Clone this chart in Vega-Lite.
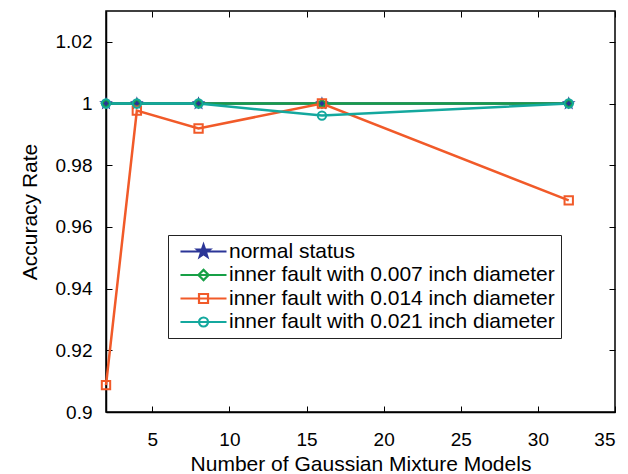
{
  "$schema": "https://vega.github.io/schema/vega-lite/v6.json",
  "width": 509,
  "height": 401,
  "autosize": {"type": "none"},
  "padding": {"left": 106, "top": 11, "right": 13, "bottom": 62},
  "background": "white",
  "config": {
    "font": "Liberation Sans",
    "view": {"stroke": "black", "strokeWidth": 1.5},
    "axis": {"grid": false, "domainColor": "black", "tickColor": "black", "labelColor": "black", "titleColor": "black", "labelFont": "Liberation Sans", "titleFont": "Liberation Sans", "labelFontSize": 19, "titleFontSize": 21, "titleFontWeight": "normal", "domainWidth": 1.5, "tickWidth": 1, "tickSize": -6}
  },
  "data": {"values": [
    {"m": 2, "acc": 1, "s": "normal status"},
    {"m": 4, "acc": 1, "s": "normal status"},
    {"m": 8, "acc": 1, "s": "normal status"},
    {"m": 16, "acc": 1, "s": "normal status"},
    {"m": 32, "acc": 1, "s": "normal status"},
    {"m": 2, "acc": 1, "s": "inner fault with 0.007 inch diameter"},
    {"m": 4, "acc": 1, "s": "inner fault with 0.007 inch diameter"},
    {"m": 8, "acc": 1, "s": "inner fault with 0.007 inch diameter"},
    {"m": 16, "acc": 1, "s": "inner fault with 0.007 inch diameter"},
    {"m": 32, "acc": 1, "s": "inner fault with 0.007 inch diameter"},
    {"m": 2, "acc": 0.9087, "s": "inner fault with 0.014 inch diameter"},
    {"m": 4, "acc": 0.9977, "s": "inner fault with 0.014 inch diameter"},
    {"m": 8, "acc": 0.9919, "s": "inner fault with 0.014 inch diameter"},
    {"m": 16, "acc": 1, "s": "inner fault with 0.014 inch diameter"},
    {"m": 32, "acc": 0.9686, "s": "inner fault with 0.014 inch diameter"},
    {"m": 2, "acc": 1, "s": "inner fault with 0.021 inch diameter"},
    {"m": 4, "acc": 1, "s": "inner fault with 0.021 inch diameter"},
    {"m": 8, "acc": 1, "s": "inner fault with 0.021 inch diameter"},
    {"m": 16, "acc": 0.9961, "s": "inner fault with 0.021 inch diameter"},
    {"m": 32, "acc": 1, "s": "inner fault with 0.021 inch diameter"}
  ]},
  "resolve": {"axis": {"x": "independent", "y": "independent"}, "scale": {"color": "independent", "shape": "independent", "fill": "independent"}},
  "layer": [
    {
      "mark": {"type": "line", "strokeWidth": 2.5},
      "encoding": {
        "x": {"field": "m", "type": "quantitative", "scale": {"domain": [2, 35], "nice": false, "zero": false}, "axis": {"values": [5, 10, 15, 20, 25, 30, 35], "title": "Number of Gaussian Mixture Models", "labelPadding": 24, "titlePadding": 4}},
        "y": {"field": "acc", "type": "quantitative", "scale": {"domain": [0.9, 1.03], "nice": false, "zero": false}, "axis": {"values": [0.9, 0.92, 0.94, 0.96, 0.98, 1, 1.02], "format": "~g", "title": "Accuracy Rate", "labelPadding": 20, "titlePadding": 15}},
        "color": {"field": "s", "type": "nominal", "legend": null, "scale": {"domain": ["normal status", "inner fault with 0.007 inch diameter", "inner fault with 0.014 inch diameter", "inner fault with 0.021 inch diameter"], "range": ["#2B3597", "#17A046", "#F15A29", "#14A89E"]}},
        "order": {"field": "m", "type": "quantitative"}
      }
    },
    {
      "mark": {"type": "point", "strokeWidth": 2, "size": 70, "opacity": 1},
      "encoding": {
        "x": {"field": "m", "type": "quantitative", "axis": {"orient": "top", "values": [5, 10, 15, 20, 25, 30, 35], "labels": false, "title": null, "domain": false}},
        "y": {"field": "acc", "type": "quantitative", "axis": {"orient": "right", "values": [0.9, 0.92, 0.94, 0.96, 0.98, 1, 1.02], "labels": false, "title": null, "domain": false}},
        "color": {"field": "s", "type": "nominal", "legend": null, "scale": {"domain": ["normal status", "inner fault with 0.007 inch diameter", "inner fault with 0.014 inch diameter", "inner fault with 0.021 inch diameter"], "range": ["#2B3597", "#17A046", "#F15A29", "#14A89E"]}},
        "shape": {"field": "s", "type": "nominal", "legend": null, "scale": {"domain": ["normal status", "inner fault with 0.007 inch diameter", "inner fault with 0.014 inch diameter", "inner fault with 0.021 inch diameter"], "range": ["M0,-1L0.235,-0.324L0.951,-0.309L0.38,0.124L0.588,0.809L0,0.4L-0.588,0.809L-0.38,0.124L-0.951,-0.309L-0.235,-0.324Z", "diamond", "square", "circle"]}},
        "fill": {"field": "s", "type": "nominal", "legend": null, "scale": {"domain": ["normal status", "inner fault with 0.007 inch diameter", "inner fault with 0.014 inch diameter", "inner fault with 0.021 inch diameter"], "range": ["#2B3597", "transparent", "transparent", "transparent"]}}
      }
    },
    {
      "mark": {"type": "point", "strokeWidth": 0, "size": 0},
      "encoding": {
        "x": {"field": "m", "type": "quantitative", "axis": null},
        "y": {"field": "acc", "type": "quantitative", "axis": null},
        "color": {"field": "s", "type": "nominal", "scale": {"domain": ["normal status", "inner fault with 0.007 inch diameter", "inner fault with 0.014 inch diameter", "inner fault with 0.021 inch diameter"], "range": ["#2B3597", "#17A046", "#F15A29", "#14A89E"]},
          "legend": {"orient": "none", "legendX": 62, "legendY": 224, "title": null, "labelFontSize": 21, "labelFont": "Liberation Sans", "labelColor": "black", "labelLimit": 500, "strokeColor": "#222", "fillColor": "white", "padding": 6, "rowPadding": 1.5, "symbolSize": 144, "symbolStrokeWidth": 2.2, "symbolOpacity": 1, "labelOffset": 34}},
        "shape": {"field": "s", "type": "nominal", "scale": {"domain": ["normal status", "inner fault with 0.007 inch diameter", "inner fault with 0.014 inch diameter", "inner fault with 0.021 inch diameter"], "range": ["M-0.67,0L7,0M3.17,-1.1L3.429,-0.356L4.216,-0.34L3.588,0.136L3.817,0.89L3.17,0.44L2.523,0.89L2.752,0.136L2.124,-0.34L2.911,-0.356Z", "M-0.67,0L7,0M3.17,-0.85L4.02,0L3.17,0.85L2.32,0Z", "M-0.67,0L7,0M2.42,-0.75L3.92,-0.75L3.92,0.75L2.42,0.75Z", "M-0.67,0L7,0M3.92,0A0.75,0.75,0,1,1,2.42,0A0.75,0.75,0,1,1,3.92,0Z"]},
          "legend": {"orient": "none", "legendX": 62, "legendY": 224, "title": null}},
        "fill": {"field": "s", "type": "nominal", "scale": {"domain": ["normal status", "inner fault with 0.007 inch diameter", "inner fault with 0.014 inch diameter", "inner fault with 0.021 inch diameter"], "range": ["#2B3597", "transparent", "transparent", "transparent"]},
          "legend": {"orient": "none", "legendX": 62, "legendY": 224, "title": null}}
      }
    }
  ]
}
